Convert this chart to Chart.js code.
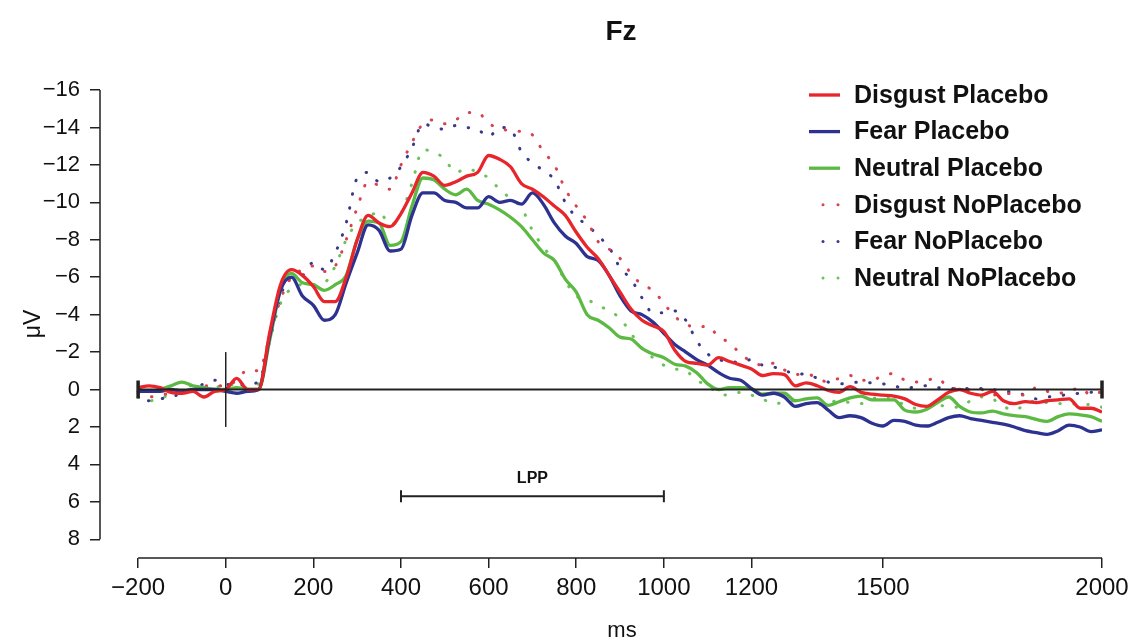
<!DOCTYPE html>
<html>
<head>
<meta charset="utf-8">
<title>Fz</title>
<script src="https://cdn.jsdelivr.net/npm/chart.js@4.4.1/dist/chart.umd.min.js"></script>
<style>
  html, body { margin: 0; padding: 0; background: #fff; }
  #wrap { width: 1137px; height: 644px; }
</style>
</head>
<body>
<div id="wrap"><canvas id="erpChart" width="1137" height="644"></canvas></div>
<script>
// sampling grid (ms), one value every 25 ms from -200 to 2000
const STEP = 25;
const times = Array.from({ length: 89 }, (_, i) => -200 + i * STEP);

// amplitudes in µV
const disgustPlacebo = [
  -0.1, -0.2, -0.1, 0.15, 0.2, 0.1, 0.4, 0.1, 0.0, -0.6, 0.0, 0.0,
  -3.0, -5.6, -6.4, -6.1, -5.5, -4.7, -4.7, -6.0, -8.0, -9.3, -8.9, -8.7,
  -9.4, -10.5, -11.6, -11.4, -10.9, -11.1, -11.4, -11.6, -12.5, -12.3, -11.9, -11.0,
  -10.7, -10.3, -9.8, -9.3, -8.4, -7.6, -7.0, -6.1, -5.2, -4.3, -3.7, -3.4,
  -3.1, -2.1, -1.5, -1.4, -1.3, -1.7, -1.5, -1.3, -1.1, -0.75, -0.85, -0.8,
  -0.2, -0.35, -0.2, 0.05, 0.15, -0.15, 0.15, 0.25, 0.3, 0.35, 0.5, 0.8,
  0.9, 0.55, 0.15, 0.0, 0.2, 0.3, 0.1, 0.6, 0.75, 0.65, 0.7, 0.6,
  0.55, 0.5, 1.0, 1.0, 1.2
];
const fearPlacebo = [
  0.1, 0.1, 0.1, 0.0, 0.1, 0.0, 0.0, 0.0, 0.1, 0.2, 0.1, 0.0,
  -2.8, -5.3, -6.0, -5.0, -4.5, -3.7, -4.0, -5.7, -7.3, -8.8, -8.5, -7.4,
  -7.5, -9.3, -10.5, -10.5, -10.1, -10.0, -9.7, -9.7, -10.3, -10.0, -10.1, -9.9,
  -10.5, -9.9, -8.9, -8.2, -7.8, -7.1, -6.9, -6.1, -5.0, -4.2, -4.0, -3.6,
  -3.0, -2.4, -2.0, -1.6, -1.3, -0.9, -0.6, -0.5, -0.05, 0.3, 0.2, 0.4,
  0.9, 0.75, 0.7, 1.1, 1.5, 1.4, 1.5, 1.8, 1.95, 1.65, 1.7, 1.9,
  1.95, 1.75, 1.5, 1.4, 1.55, 1.65, 1.75, 1.85, 2.0, 2.2, 2.3, 2.4,
  2.2, 1.9, 2.0, 2.25, 2.15
];
const neutralPlacebo = [
  0.0, 0.1, 0.0, -0.2, -0.4, -0.2, -0.1, 0.0, 0.0, -0.1, 0.0, 0.0,
  -2.6, -5.3, -6.2, -5.7, -5.6, -5.3, -5.6, -6.1, -8.0, -9.0, -8.9, -7.7,
  -7.9, -9.8, -11.3, -11.2, -10.7, -10.4, -10.7, -10.1, -9.9, -9.6, -9.2, -8.7,
  -8.0, -7.3, -6.9, -5.9, -5.2, -4.0, -3.7, -3.3, -2.8, -2.7, -2.2, -1.9,
  -1.7, -1.35, -1.25, -0.9, -0.3, 0.0, -0.1, -0.1, -0.05, 0.25, 0.2, 0.2,
  0.6, 0.5, 0.45, 0.85, 0.65, 0.45, 0.35, 0.55, 0.55, 0.55, 1.1, 1.2,
  1.05, 0.7, 0.4, 0.9, 1.2, 1.25, 1.15, 1.3, 1.4, 1.45, 1.6, 1.7,
  1.45, 1.3, 1.35, 1.45, 1.7
];
const disgustNoPlacebo = [
  0.2, 0.4, 0.3, 0.2, 0.1, 0.0, -0.2, -0.2, -0.2, -0.5, -1.05, -1.0,
  -2.8, -4.8, -6.0, -6.4, -6.6, -6.3, -6.6, -8.0, -9.7, -11.1, -10.9, -10.7,
  -12.0, -13.2, -14.2, -14.4, -14.2, -14.4, -14.8, -14.8, -14.2, -14.0, -13.8, -13.8,
  -13.6, -12.7, -12.0, -10.7, -9.8, -9.0, -7.9, -7.5, -7.0, -6.2, -5.6, -5.3,
  -4.6, -3.9, -3.5, -3.3, -3.4, -2.8, -2.5, -1.9, -1.5, -1.3, -1.4, -1.05,
  -0.8, -0.85, -0.6, -0.4, -0.6, -0.75, -0.5, -0.5, -0.75, -0.85, -0.5, -0.4,
  -0.5, -0.6, -0.1, -0.05, 0.0, 0.0, 0.3, 0.2, 0.25, 0.3, -0.1, 0.1,
  0.2, 0.1, -0.1, 0.3, 0.1
];
const fearNoPlacebo = [
  0.1, 0.6, 0.5, 0.4, 0.2, 0.0, -0.3, -0.5, -0.3, -0.2, -0.3, -0.4,
  -2.6, -5.0, -6.0, -6.1, -6.8, -6.4, -7.3, -8.9, -11.3, -11.6, -11.1, -11.3,
  -11.9, -12.9, -14.2, -14.0, -13.9, -14.1, -14.0, -13.9, -13.5, -14.0, -13.9, -12.7,
  -12.1, -11.7, -11.2, -10.0, -9.2, -8.8, -8.2, -7.6, -6.5, -5.9, -4.9, -4.1,
  -4.1, -4.2, -3.7, -2.6, -1.9, -1.6, -1.5, -1.45, -1.6, -1.3, -1.2, -1.05,
  -0.8, -0.85, -0.6, -0.4, -0.3, -0.35, -0.4, -0.35, -0.3, -0.2, -0.05, -0.15,
  -0.2, -0.1, -0.05, -0.05, -0.05, -0.05, 0.0, 0.1, 0.15, 0.3, 0.5, 0.4,
  0.35, 0.25, 0.2, 0.15, 0.2
];
const neutralNoPlacebo = [
  0.4, 0.6, 0.5, 0.2, -0.1, -0.2, -0.1, -0.1, -0.3, -0.2, -0.1, -0.3,
  -2.6, -4.6, -5.4, -5.6, -5.6, -5.7, -6.6, -8.0, -8.9, -9.2, -9.5, -8.8,
  -9.4, -11.0, -12.8, -12.7, -12.3, -11.6, -11.8, -11.6, -11.3, -10.7, -10.2, -9.7,
  -8.5, -7.6, -6.9, -5.8, -5.0, -4.8, -4.5, -4.2, -3.8, -3.0, -2.2, -1.7,
  -1.3, -1.1, -1.0, -0.5, -0.2, 0.2, 0.3, 0.15, 0.3, 0.5, 0.75, 0.7,
  0.6, 0.75, 0.8, 0.7, 0.6, 0.7, 0.75, 0.5, 0.4, 0.6, 0.8, 1.0,
  0.9, 0.85, 0.9, 0.95, 0.6, 0.4, 0.5, 0.9, 1.1, 0.8, 0.6, 0.7,
  0.75, 0.75, 0.8, 0.8, 0.95
];

const seriesNames = [
  'Disgust Placebo', 'Fear Placebo', 'Neutral Placebo',
  'Disgust NoPlacebo', 'Fear NoPlacebo', 'Neutral NoPlacebo'
];
const seriesValues = [
  disgustPlacebo, fearPlacebo, neutralPlacebo,
  disgustNoPlacebo, fearNoPlacebo, neutralNoPlacebo
];
const seriesColors = ['#e8252b', '#2d3190', '#5cb943', '#d9414e', '#38398a', '#6cc25a'];

const msTicks = [-200, 0, 200, 400, 600, 800, 1000, 1200, 1500, 2000];
const uvTicks = [-16, -14, -12, -10, -8, -6, -4, -2, 0, 2, 4, 6, 8];
const lppWindow = [400, 1000];

const FONT = "'Liberation Sans', Arial, Helvetica, sans-serif";
const minus = (v) => (v < 0 ? '\u2212' + Math.abs(v) : String(v));

const datasets = seriesNames.map((name, i) => {
  const dotted = i >= 3;
  return {
    label: name,
    data: times.map((t, j) => ({ x: t, y: seriesValues[i][j] })),
    borderColor: seriesColors[i],
    borderWidth: dotted ? 3 : 3.3,
    borderDash: dotted ? [0.5, 13.5] : [],
    borderCapStyle: dotted ? 'round' : 'butt',
    pointRadius: 0,
    fill: false,
    cubicInterpolationMode: 'monotone',
    order: i,
  };
});

// axes, baseline, LPP marker, legend and titles
const overlay = {
  id: 'overlay',
  afterDatasetsDraw(chart) {
    const { ctx, chartArea } = chart;
    const x = chart.scales.x;
    const y = chart.scales.y;
    ctx.save();
    ctx.strokeStyle = '#222';
    ctx.fillStyle = '#111';

    // axis lines (R style, only across the tick range)
    ctx.lineWidth = 1.5;
    ctx.beginPath();
    ctx.moveTo(chartArea.left, y.getPixelForValue(uvTicks[0]));
    ctx.lineTo(chartArea.left, y.getPixelForValue(uvTicks[uvTicks.length - 1]));
    ctx.moveTo(x.getPixelForValue(msTicks[0]), chartArea.bottom);
    ctx.lineTo(x.getPixelForValue(msTicks[msTicks.length - 1]), chartArea.bottom);
    ctx.stroke();

    // zero line with end caps
    const y0 = y.getPixelForValue(0);
    const xs = x.getPixelForValue(-200);
    const xe = x.getPixelForValue(2000);
    ctx.lineWidth = 2;
    ctx.beginPath();
    ctx.moveTo(xs, y0);
    ctx.lineTo(xe, y0);
    ctx.stroke();
    ctx.lineWidth = 3.5;
    ctx.beginPath();
    ctx.moveTo(xs, y0 - 9);
    ctx.lineTo(xs, y0 + 9);
    ctx.moveTo(xe, y0 - 9);
    ctx.lineTo(xe, y0 + 9);
    ctx.stroke();

    // stimulus onset marker
    ctx.lineWidth = 1.5;
    ctx.beginPath();
    ctx.moveTo(x.getPixelForValue(0), y.getPixelForValue(-2));
    ctx.lineTo(x.getPixelForValue(0), y.getPixelForValue(2));
    ctx.stroke();

    // LPP window
    const yl = y.getPixelForValue(5.7);
    const xl1 = x.getPixelForValue(lppWindow[0]);
    const xl2 = x.getPixelForValue(lppWindow[1]);
    ctx.lineWidth = 2;
    ctx.beginPath();
    ctx.moveTo(xl1, yl);
    ctx.lineTo(xl2, yl);
    ctx.moveTo(xl1, yl - 6);
    ctx.lineTo(xl1, yl + 6);
    ctx.moveTo(xl2, yl - 6);
    ctx.lineTo(xl2, yl + 6);
    ctx.stroke();
    ctx.font = 'bold 16px ' + FONT;
    ctx.textAlign = 'center';
    ctx.textBaseline = 'middle';
    ctx.fillText('LPP', (xl1 + xl2) / 2, yl - 18);

    // legend
    ctx.font = 'bold 25px ' + FONT;
    ctx.textAlign = 'left';
    seriesNames.forEach((name, i) => {
      const ry = 95 + i * 36.6;
      ctx.strokeStyle = seriesColors[i];
      if (i < 3) {
        ctx.lineWidth = 3.3;
        ctx.beginPath();
        ctx.moveTo(809, ry);
        ctx.lineTo(840, ry);
        ctx.stroke();
      } else {
        ctx.fillStyle = seriesColors[i];
        [823, 838].forEach((dx) => {
          ctx.beginPath();
          ctx.arc(dx, ry, 1.5, 0, Math.PI * 2);
          ctx.fill();
        });
      }
      ctx.fillStyle = '#111';
      ctx.fillText(name, 854, ry + 1);
    });

    // titles
    ctx.textAlign = 'center';
    ctx.font = 'bold 28px ' + FONT;
    ctx.fillText('Fz', 621, 32);
    ctx.font = '22px ' + FONT;
    ctx.fillText('ms', 622, 631);
    ctx.restore();
  },
};

new Chart(document.getElementById('erpChart'), {
  type: 'line',
  data: { datasets },
  options: {
    responsive: false,
    animation: false,
    layout: { padding: { top: 90, right: 35, bottom: 0, left: 0 } },
    plugins: {
      legend: { display: false },
      tooltip: { enabled: false },
    },
    scales: {
      x: {
        type: 'linear',
        min: -287,
        max: 2000,
        afterBuildTicks: (s) => { s.ticks = msTicks.map((v) => ({ value: v })); },
        afterFit: (s) => { s.height = 86; },
        grid: { display: true, drawOnChartArea: false, drawTicks: true, tickLength: 10, color: '#222', lineWidth: 1.5 },
        border: { display: false },
        ticks: {
          autoSkip: false,
          maxRotation: 0,
          padding: 6,
          color: '#111',
          font: { family: FONT, size: 24 },
          callback: (v) => minus(v),
        },
      },
      y: {
        type: 'linear',
        reverse: true,
        min: -16,
        max: 9,
        afterBuildTicks: (s) => { s.ticks = uvTicks.map((v) => ({ value: v })); },
        afterFit: (s) => { s.width = 100; },
        grid: { display: true, drawOnChartArea: false, drawTicks: true, tickLength: 10, color: '#222', lineWidth: 1.5 },
        border: { display: false },
        title: {
          display: true,
          text: '\u03bcV',
          color: '#111',
          font: { family: FONT, size: 23 },
          padding: { top: 20, bottom: 0 },
        },
        ticks: {
          padding: 10,
          color: '#111',
          font: { family: FONT, size: 22 },
          callback: (v) => minus(v),
        },
      },
    },
  },
  plugins: [overlay],
});
</script>
</body>
</html>
